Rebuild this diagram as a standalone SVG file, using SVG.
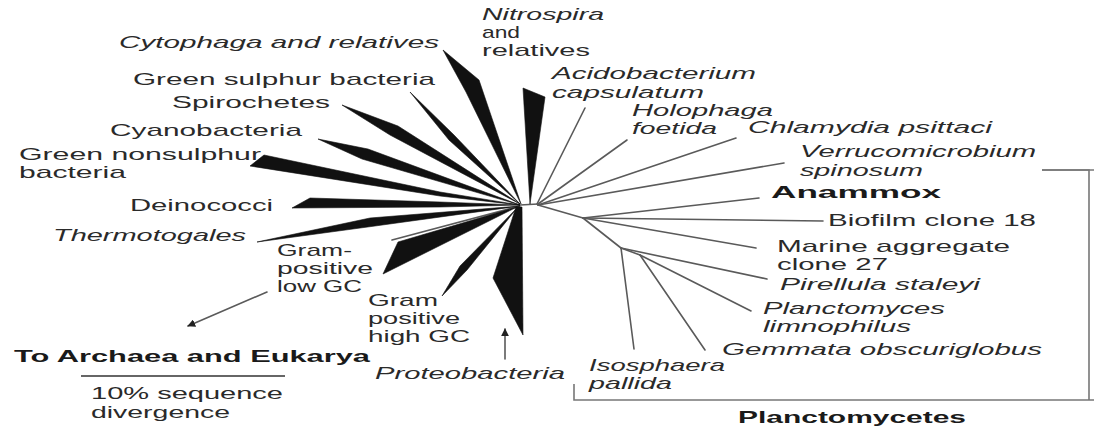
<svg xmlns="http://www.w3.org/2000/svg" width="1094" height="428" viewBox="0 0 1094 428">
<defs>
<style>
text{font-family:"Liberation Sans",Arial,sans-serif;font-size:17px;fill:#2a2a2a}
.it{font-style:italic}
.b{font-weight:bold;font-size:17px;fill:#1a1a1a}
.w{fill:#111;stroke:#111;stroke-width:0.6;stroke-linejoin:round}
.ln{stroke:#5a5a5a;stroke-width:1.6;fill:none;stroke-linecap:round}
.br{stroke:#777;stroke-width:1.6;fill:none}
</style>
<marker id="ah" viewBox="0 0 10 10" refX="9" refY="5" markerWidth="8" markerHeight="8" orient="auto" markerUnits="userSpaceOnUse">
<path d="M0,0 L10,5 L0,10 z" fill="#222"/>
</marker>
</defs>
<rect width="1094" height="428" fill="#fff"/>

<g id="connectors">
<line class="ln" x1="520" y1="205" x2="538" y2="204"/>
<line class="ln" x1="392" y1="240" x2="520" y2="206"/>
<line class="ln" x1="537" y1="204" x2="585" y2="108"/>
<line class="ln" x1="538" y1="204" x2="627" y2="140"/>
<line class="ln" x1="538" y1="205" x2="736" y2="138"/>
<line class="ln" x1="538" y1="205" x2="784" y2="163"/>
<line class="ln" x1="538" y1="205" x2="583" y2="218"/>
<line class="ln" x1="583" y1="218" x2="759" y2="198"/>
<line class="ln" x1="583" y1="218" x2="823" y2="221"/>
<line class="ln" x1="583" y1="218" x2="756" y2="248"/>
<line class="ln" x1="583" y1="218" x2="621" y2="248"/>
<line class="ln" x1="621" y1="248" x2="634" y2="349"/>
<line class="ln" x1="621" y1="248" x2="767" y2="279"/>
<line class="ln" x1="621" y1="248" x2="640" y2="255"/>
<line class="ln" x1="640" y1="255" x2="751" y2="311"/>
<line class="ln" x1="640" y1="255" x2="705" y2="350"/>
<line class="ln" x1="267" y1="292" x2="188" y2="326" stroke="#444" marker-end="url(#ah)"/>
<line class="ln" x1="505" y1="359" x2="505" y2="329" stroke="#444" marker-end="url(#ah)"/>
</g>

<g id="cytophaga">
<polygon class="w" points="443,50 479,80 521,204 466,92"/>
<text class="it" x="119" y="48" textLength="320" lengthAdjust="spacingAndGlyphs">Cytophaga and relatives</text>
</g>
<g id="green-sulphur">
<polygon class="w" points="410,92 454,135 520,204 449,140"/>
<text x="133" y="85" textLength="302" lengthAdjust="spacingAndGlyphs">Green sulphur bacteria</text>
</g>
<g id="spirochetes">
<polygon class="w" points="342,105 398,126 520,204 390,135"/>
<text x="172" y="108" textLength="158" lengthAdjust="spacingAndGlyphs">Spirochetes</text>
</g>
<g id="cyanobacteria">
<polygon class="w" points="318,139 368,149 520,205 362,159"/>
<text x="110" y="136" textLength="192" lengthAdjust="spacingAndGlyphs">Cyanobacteria</text>
</g>
<g id="green-nonsulphur">
<polygon class="w" points="250,166 264,155 440,192 520,205 440,196"/>
<text x="19" y="160" textLength="242" lengthAdjust="spacingAndGlyphs">Green nonsulphur</text>
<text x="19" y="178" textLength="107" lengthAdjust="spacingAndGlyphs">bacteria</text>
</g>
<g id="deinococci">
<polygon class="w" points="292,208 310,198 440,202 520,205 440,207"/>
<text x="130" y="211" textLength="143" lengthAdjust="spacingAndGlyphs">Deinococci</text>
</g>
<g id="thermotogales">
<polygon class="w" points="257,242 370,218 520,206 375,226"/>
<text class="it" x="53" y="241" textLength="193" lengthAdjust="spacingAndGlyphs">Thermotogales</text>
</g>
<g id="gram-low">
<polygon class="w" points="383,274 398,242 517,207"/>
<text x="277" y="256" textLength="75" lengthAdjust="spacingAndGlyphs">Gram-</text>
<text x="277" y="274" textLength="96" lengthAdjust="spacingAndGlyphs">positive</text>
<text x="277" y="292" textLength="85" lengthAdjust="spacingAndGlyphs">low GC</text>
</g>
<g id="gram-high">
<polygon class="w" points="442,296 460,266 518,207 467,270"/>
<text x="368" y="306" textLength="70" lengthAdjust="spacingAndGlyphs">Gram</text>
<text x="368" y="324" textLength="92" lengthAdjust="spacingAndGlyphs">positive</text>
<text x="368" y="342" textLength="102" lengthAdjust="spacingAndGlyphs">high GC</text>
</g>
<g id="proteobacteria">
<polygon class="w" points="516,207 493,278 523,335 522,207"/>
<text class="it" x="375" y="379" textLength="190" lengthAdjust="spacingAndGlyphs">Proteobacteria</text>
</g>
<g id="archaea">
<text class="b" x="14" y="362" textLength="356" lengthAdjust="spacingAndGlyphs">To Archaea and Eukarya</text>
</g>
<g id="scale-bar">
<line x1="81" y1="376" x2="285" y2="376" stroke="#666" stroke-width="2"/>
<text x="91" y="399" textLength="192" lengthAdjust="spacingAndGlyphs">10% sequence</text>
<text x="91" y="418" textLength="139" lengthAdjust="spacingAndGlyphs">divergence</text>
</g>
<g id="nitrospira">
<polygon class="w" points="523,88 545,97 530,204"/>
<text class="it" x="482" y="20" textLength="122" lengthAdjust="spacingAndGlyphs">Nitrospira</text>
<text x="482" y="38" textLength="38" lengthAdjust="spacingAndGlyphs">and</text>
<text x="482" y="56" textLength="108" lengthAdjust="spacingAndGlyphs">relatives</text>
</g>
<g id="acidobacterium">
<text class="it" x="552" y="79" textLength="204" lengthAdjust="spacingAndGlyphs">Acidobacterium</text>
<text class="it" x="552" y="98" textLength="152" lengthAdjust="spacingAndGlyphs">capsulatum</text>
</g>
<g id="holophaga">
<text class="it" x="632" y="116" textLength="141" lengthAdjust="spacingAndGlyphs">Holophaga</text>
<text class="it" x="632" y="134" textLength="85" lengthAdjust="spacingAndGlyphs">foetida</text>
</g>
<g id="chlamydia">
<text class="it" x="748" y="133" textLength="244" lengthAdjust="spacingAndGlyphs">Chlamydia psittaci</text>
</g>
<g id="verrucomicrobium">
<text class="it" x="800" y="157" textLength="236" lengthAdjust="spacingAndGlyphs">Verrucomicrobium</text>
<text class="it" x="800" y="176" textLength="123" lengthAdjust="spacingAndGlyphs">spinosum</text>
</g>
<g id="anammox">
<text class="b" x="771" y="198" textLength="170" lengthAdjust="spacingAndGlyphs">Anammox</text>
</g>
<g id="biofilm">
<text x="828" y="226" textLength="208" lengthAdjust="spacingAndGlyphs">Biofilm clone 18</text>
</g>
<g id="marine">
<text x="777" y="252" textLength="233" lengthAdjust="spacingAndGlyphs">Marine aggregate</text>
<text x="777" y="270" textLength="111" lengthAdjust="spacingAndGlyphs">clone 27</text>
</g>
<g id="pirellula">
<text class="it" x="780" y="290" textLength="200" lengthAdjust="spacingAndGlyphs">Pirellula staleyi</text>
</g>
<g id="planctomyces">
<text class="it" x="763" y="314" textLength="182" lengthAdjust="spacingAndGlyphs">Planctomyces</text>
<text class="it" x="763" y="332" textLength="148" lengthAdjust="spacingAndGlyphs">limnophilus</text>
</g>
<g id="gemmata">
<text class="it" x="722" y="355" textLength="320" lengthAdjust="spacingAndGlyphs">Gemmata obscuriglobus</text>
</g>
<g id="isosphaera">
<text class="it" x="589" y="371" textLength="136" lengthAdjust="spacingAndGlyphs">Isosphaera</text>
<text class="it" x="589" y="389" textLength="83" lengthAdjust="spacingAndGlyphs">pallida</text>
</g>
<g id="planctomycetes">
<polyline class="br" points="574,384 574,400 1094,400"/>
<polyline class="br" stroke="#bbb" points="1042,170 1089,170 1089,400"/>
<line x1="1042" y1="170" x2="1094" y2="170" stroke="#777" stroke-width="1.6"/>
<text class="b" x="738" y="423" textLength="228" lengthAdjust="spacingAndGlyphs">Planctomycetes</text>
</g>
</svg>
